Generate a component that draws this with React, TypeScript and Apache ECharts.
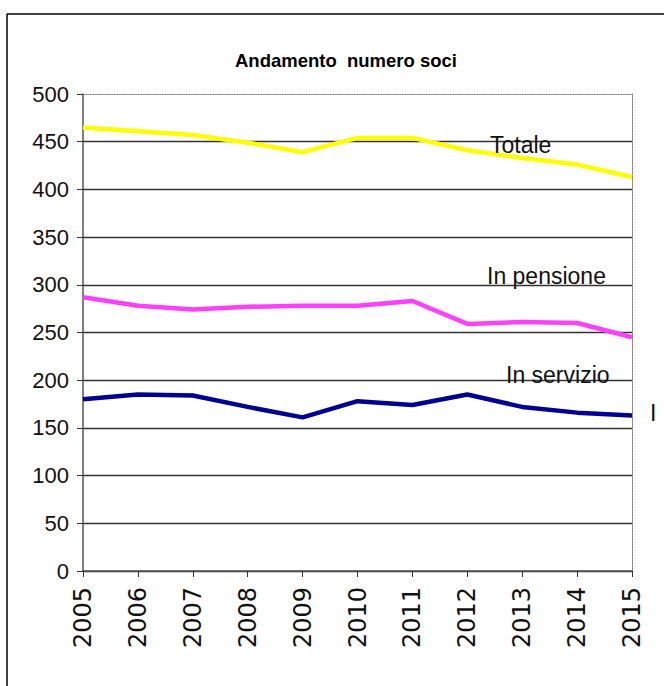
import React, { useEffect, useRef } from "react";
import * as echarts from "echarts";

const years = ["2005", "2006", "2007", "2008", "2009", "2010", "2011", "2012", "2013", "2014", "2015"];
const totale = [465, 461, 457, 449, 439, 454, 454, 441, 433, 426, 413];
const inPensione = [287, 278, 274, 277, 278, 278, 283, 259, 261, 260, 245];
const inServizio = [180, 185, 184, 172, 161, 178, 174, 185, 172, 166, 163];
const seriesNames = ["Totale", "In pensione", "In servizio"];
const seriesColors = ["#FFFF00", "#FF40FF", "#000090"];
const title = "Andamento  numero soci";

export default function App() {
  const ref = useRef<HTMLDivElement>(null);
  useEffect(() => {
    if (!ref.current) return;
    const chart = echarts.init(ref.current, null, { renderer: "svg" });
    const data = [totale, inPensione, inServizio];
    const splitColors = ["#333", "#333", "#333", "#333", "#333", "#333", "#333", "#333", "#333", "#333", "transparent"];
    chart.setOption({
      animation: false,
      backgroundColor: "#fff",
      title: {
        text: title,
        left: 341,
        textAlign: "center",
        top: 46,
        textStyle: { fontFamily: "Liberation Sans", fontWeight: "bold", fontSize: 18.5, color: "#000" },
      },
      grid: { left: 83, right: 32, top: 94, bottom: 115, containLabel: false },
      xAxis: [
        {
          type: "category",
          data: years,
          boundaryGap: false,
          axisLine: { onZero: false, lineStyle: { color: "#555", width: 1.5 } },
          axisTick: { show: true, length: 6, lineStyle: { color: "#333" } },
          axisLabel: {
            rotate: 90,
            margin: 16,
            fontFamily: "DejaVu Sans",
            fontSize: 24,
            color: "#111",
          },
          splitLine: { show: false },
        },
        {
          type: "category",
          data: years,
          boundaryGap: false,
          position: "top",
          axisLine: { show: true, onZero: false, lineStyle: { color: "#888", type: "dotted", width: 1.2 } },
          axisTick: { show: false },
          axisLabel: { show: false },
        },
      ],
      yAxis: [
        {
          type: "value",
          min: 0,
          max: 500,
          interval: 50,
          axisLine: { show: true, lineStyle: { color: "#555", width: 1.5 } },
          axisTick: { show: true, length: 6, lineStyle: { color: "#333" } },
          axisLabel: { margin: 14, fontFamily: "Liberation Sans", fontSize: 22, color: "#111" },
          splitLine: { show: true, lineStyle: { color: splitColors, width: 1.3 } },
        },
        {
          type: "value",
          min: 0,
          max: 500,
          interval: 50,
          position: "right",
          axisLine: { show: true, onZero: false, lineStyle: { color: "#777", type: "dotted", width: 1 } },
          axisTick: { show: false },
          axisLabel: { show: false },
          splitLine: { show: false },
        },
      ],
      series: data.map((d, i) => ({
        name: seriesNames[i],
        type: "line",
        data: d,
        symbol: "none",
        lineStyle: { color: seriesColors[i], width: 4.5 },
        z: 3,
      })),
      graphic: [
        { type: "line", shape: { x1: 7, y1: 14, x2: 664, y2: 14 }, style: { stroke: "#000", lineWidth: 1.5 } },
        { type: "line", shape: { x1: 7, y1: 14, x2: 7, y2: 686 }, style: { stroke: "#000", lineWidth: 1.5 } },
        { type: "text", left: 490, top: 133, style: { text: "Totale", fontFamily: "Liberation Sans", fontSize: 23, fill: "#111" }, z: 10 },
        { type: "text", left: 487, top: 264, style: { text: "In pensione", fontFamily: "Liberation Sans", fontSize: 23, fill: "#111" }, z: 10 },
        { type: "text", left: 506, top: 363, style: { text: "In servizio", fontFamily: "Liberation Sans", fontSize: 23, fill: "#111" }, z: 10 },
        { type: "text", left: 650, top: 401, style: { text: "I", fontFamily: "Liberation Sans", fontSize: 23, fill: "#111" }, z: 10 },
      ],
    });
    return () => chart.dispose();
  }, []);
  return <div ref={ref} style={{ position: "fixed", left: 0, top: 0, width: 664, height: 686 }} />;
}
